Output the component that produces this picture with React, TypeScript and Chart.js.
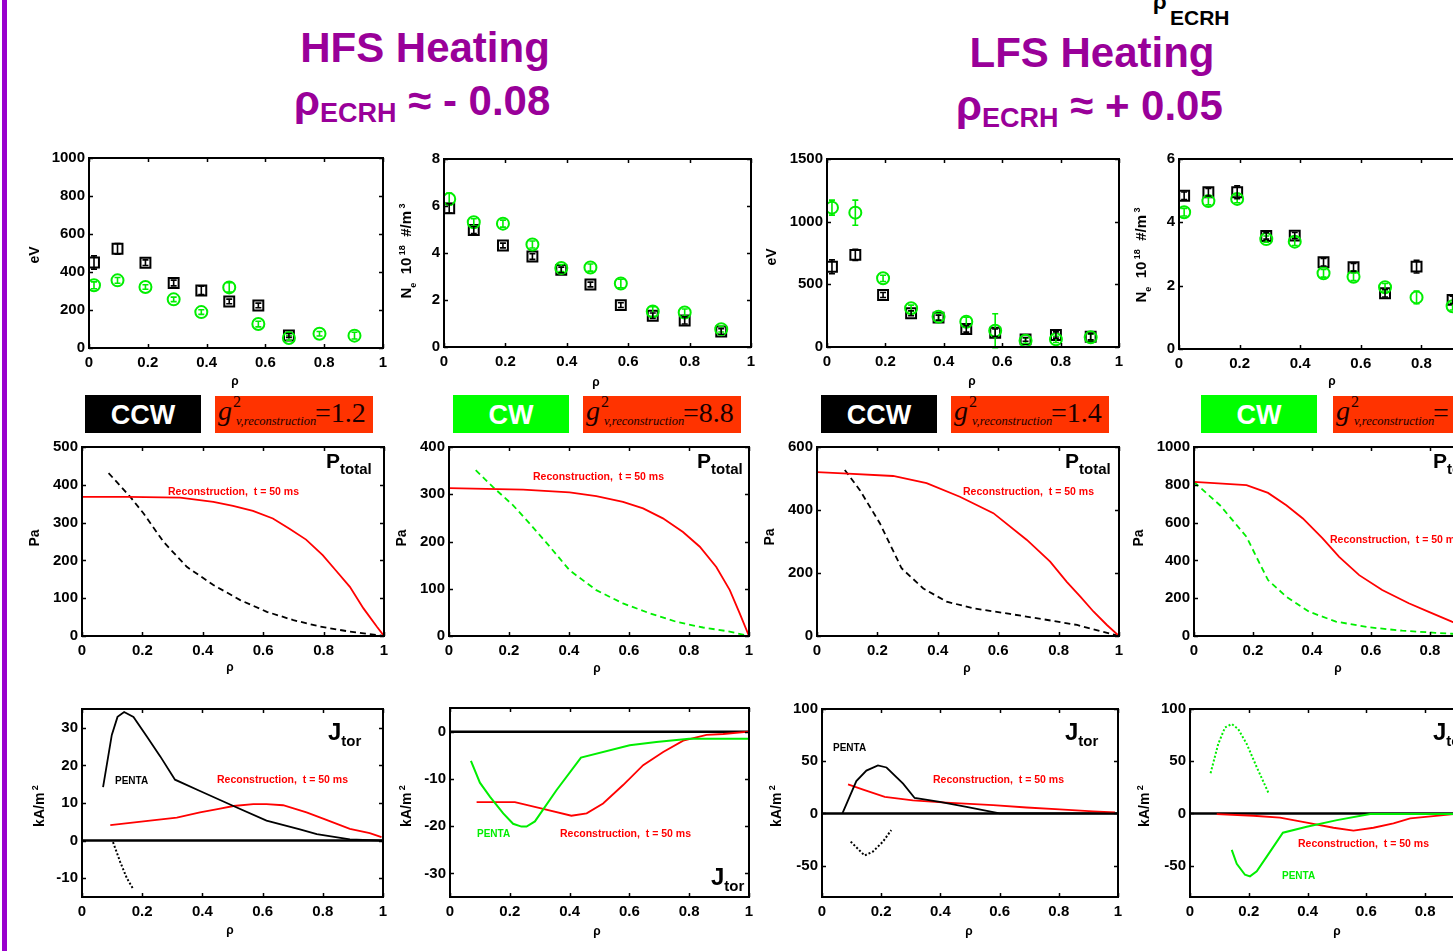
import React, { useEffect, useRef } from "react";
import { Chart, registerables } from "chart.js";

Chart.register(...registerables);

const FONT = "'Liberation Sans', Arial, Helvetica, sans-serif";
const SERIF = "'Liberation Serif', 'Times New Roman', serif";
const PURPLE = "#990099";
const BAR = "#9900CC";
const GREEN = "#00EE00";
const BOX_GREEN = "#00FF00";
const RED = "#FF0000";
const BOX_RED = "#FF3300";
const BLACK = "#000000";

Chart.defaults.font.family = FONT;

// ---------------- data ----------------
const X_TICKS = [0, 0.2, 0.4, 0.6, 0.8, 1];
const RHO = [0.017, 0.097, 0.192, 0.288, 0.382, 0.477, 0.576, 0.68, 0.784, 0.903];
const RHO_8 = RHO.slice(0, 8);

// HFS heating: electron temperature (eV)
const hfsTeTicks = [0, 200, 400, 600, 800, 1000];
const hfsTeCCW = [450, 522, 449, 342, 303, 245, 224, 66];
const hfsTeCCWErr = [35, 28, 15, 15, 22, 12, 12, 10];
const hfsTeCW = [330, 356, 321, 256, 189, 319, 126, 53, 75, 65];
const hfsTeCWErr = [18, 15, 12, 12, 12, 25, 15, 12, 12, 18];

// HFS heating: electron density (1e18 m^-3)
const hfsNeTicks = [0, 2, 4, 6, 8];
const hfsNeCCW = [5.9, 4.98, 4.32, 3.85, 3.28, 2.66, 1.78, 1.33, 1.13, 0.66];
const hfsNeCCWErr = [0.2, 0.15, 0.1, 0.12, 0.12, 0.1, 0.1, 0.12, 0.15, 0.12];
const hfsNeCW = [6.3, 5.31, 5.25, 4.36, 3.36, 3.38, 2.7, 1.51, 1.47, 0.76];
const hfsNeCWErr = [0.25, 0.15, 0.15, 0.15, 0.15, 0.15, 0.18, 0.2, 0.15, 0.12];

// LFS heating: electron temperature (eV)
const lfsTeTicks = [0, 500, 1000, 1500];
const lfsTeCCW = [640, 735, 415, 269, 234, 144, 114, 61, 96, 82];
const lfsTeCCWErr = [55, 45, 20, 20, 20, 25, 30, 15, 25, 25];
const lfsTeCW = [1112, 1072, 548, 309, 242, 202, 130, 50, 61, 77];
const lfsTeCWErr = [60, 100, 25, 25, 25, 35, 135, 20, 25, 25];

// LFS heating: electron density (1e18 m^-3)
const lfsNeTicks = [0, 2, 4, 6];
const lfsNeCCW = [4.84, 4.95, 4.95, 3.57, 3.58, 2.74, 2.58, 1.76, 2.6, 1.55];
const lfsNeCCWErr = [0.12, 0.12, 0.2, 0.1, 0.1, 0.12, 0.12, 0.12, 0.2, 0.12];
const lfsNeCW = [4.32, 4.67, 4.74, 3.47, 3.39, 2.39, 2.28, 1.95, 1.63, 1.35];
const lfsNeCWErr = [0.12, 0.12, 0.12, 0.1, 0.12, 0.12, 0.12, 0.12, 0.2, 0.12];

// Total pressure (Pa)
const hfsCCWPTicks = [0, 100, 200, 300, 400, 500];
const hfsCCWRecRho = [0, 0.15, 0.325, 0.435, 0.5, 0.566, 0.632, 0.687, 0.742, 0.797, 0.84, 0.887, 0.932, 0.976, 1];
const hfsCCWRec = [368, 368, 366, 355, 344, 331, 311, 284, 255, 214, 174, 130, 73, 25, 0];
const hfsCCWPentaRho = [0.088, 0.16, 0.204, 0.27, 0.347, 0.435, 0.524, 0.612, 0.7, 0.788, 0.876, 1];
const hfsCCWPenta = [431, 368, 324, 249, 183, 135, 95, 64, 42, 25, 13, 0];

const hfsCWPTicks = [0, 100, 200, 300, 400];
const hfsCWRecRho = [0, 0.247, 0.402, 0.491, 0.58, 0.647, 0.713, 0.78, 0.836, 0.891, 0.936, 0.969, 1];
const hfsCWRec = [313, 310, 304, 296, 284, 270, 249, 220, 189, 146, 97, 48, 0];
const hfsCWPentaRho = [0.089, 0.147, 0.213, 0.269, 0.336, 0.402, 0.491, 0.58, 0.669, 0.758, 0.847, 0.93, 1];
const hfsCWPenta = [351, 315, 277, 238, 189, 139, 97, 69, 48, 30, 18, 10, 0];

const lfsCCWPTicks = [0, 200, 400, 600];
const lfsCCWRecRho = [0, 0.086, 0.252, 0.363, 0.473, 0.584, 0.695, 0.772, 0.827, 0.872, 0.916, 0.96, 1];
const lfsCCWRec = [520, 516, 508, 485, 442, 390, 305, 236, 172, 125, 77, 35, 0];
const lfsCCWPentaRho = [0.092, 0.142, 0.208, 0.28, 0.352, 0.429, 0.518, 0.639, 0.75, 0.861, 1];
const lfsCCWPenta = [527, 463, 358, 215, 151, 109, 88, 70, 53, 35, 0];

const lfsCWPTicks = [0, 200, 400, 600, 800, 1000];
const lfsCWRecRho = [0, 0.178, 0.251, 0.313, 0.369, 0.436, 0.492, 0.56, 0.638, 0.728, 0.796, 0.874, 0.94, 1];
const lfsCWRec = [815, 798, 757, 692, 622, 516, 419, 322, 243, 173, 128, 76, 35, 0];
const lfsCWPentaRho = [0, 0.088, 0.178, 0.217, 0.251, 0.313, 0.391, 0.481, 0.593, 0.706, 0.818, 0.874, 1];
const lfsCWPenta = [815, 692, 525, 401, 296, 208, 128, 76, 46, 28, 17, 12, 0];

// Toroidal current density (kA/m^2)
const hfsCCWJTicks = [-10, 0, 10, 20, 30];
const hfsCCWJPentaRho = [0.07, 0.099, 0.118, 0.14, 0.171, 0.216, 0.26, 0.309, 0.392, 0.503, 0.613, 0.724, 0.78, 0.89, 1];
const hfsCCWJPenta = [14.2, 28.1, 32.9, 34.2, 32.9, 27.6, 22.4, 16.2, 13.2, 9.2, 5.3, 3.0, 1.75, 0.3, 0];
const hfsCCWJPentaNegRho = [0.103, 0.127, 0.149, 0.171];
const hfsCCWJPentaNeg = [-0.4, -5.7, -10, -13];
const hfsCCWJRecRho = [0.094, 0.226, 0.315, 0.392, 0.459, 0.503, 0.569, 0.613, 0.668, 0.746, 0.812, 0.89, 0.956, 0.995];
const hfsCCWJRec = [4.1, 5.3, 6.1, 7.5, 8.5, 9.2, 9.7, 9.7, 9.4, 7.5, 5.5, 3.1, 2.0, 0.9];

const hfsCWJTicks = [-30, -20, -10, 0];
const hfsCWJPentaRho = [0.07, 0.1, 0.134, 0.178, 0.211, 0.239, 0.256, 0.284, 0.356, 0.438, 0.601, 0.69, 0.8, 0.91, 1];
const hfsCWJPenta = [-6.2, -10.8, -13.8, -17.3, -19.5, -20.1, -20.1, -19.0, -12.4, -5.5, -2.9, -2.2, -1.5, -1.5, -1.5];
const hfsCWJRecRho = [0.089, 0.217, 0.301, 0.406, 0.457, 0.512, 0.579, 0.646, 0.713, 0.78, 0.858, 0.914, 1];
const hfsCWJRec = [-14.9, -14.9, -16.2, -17.8, -17.3, -15.2, -11.3, -7.1, -4.3, -1.9, -0.7, -0.5, 0];

const lfsJTicks = [-50, 0, 50, 100];
const lfsCCWJPentaRho = [0.069, 0.116, 0.15, 0.189, 0.218, 0.274, 0.313, 0.398, 0.488, 0.6, 1];
const lfsCCWJPenta = [0, 31, 41, 46, 44, 28.5, 14.8, 11.1, 6.3, 0, 0];
const lfsCCWJPentaNegRho = [0.097, 0.127, 0.144, 0.172, 0.206, 0.234];
const lfsCCWJPentaNeg = [-27, -35.5, -40.3, -36.5, -27, -15.9];
const lfsCCWJRecRho = [0.088, 0.139, 0.212, 0.307, 0.42, 0.578, 0.691, 0.803, 0.916, 0.99];
const lfsCCWJRec = [27.9, 22.8, 15.8, 12.6, 10.4, 7.9, 5.7, 3.8, 2, 1];

const lfsCWJPentaPosRho = [0.07, 0.096, 0.119, 0.142, 0.164, 0.193, 0.227, 0.267];
const lfsCWJPentaPos = [38.6, 66.5, 82.3, 85.6, 80.8, 66.5, 44.3, 19.6];
const lfsCWJPentaRho = [0.142, 0.159, 0.187, 0.204, 0.227, 0.261, 0.316, 0.397, 0.5, 0.613, 0.9, 1];
const lfsCWJPenta = [-34.9, -48.2, -58.7, -60.3, -55.5, -41.3, -18.4, -12.7, -6.4, -0.6, -0.6, -0.6];
const lfsCWJRecRho = [0.091, 0.215, 0.306, 0.397, 0.488, 0.556, 0.624, 0.692, 0.749, 0.828, 0.896, 1];
const lfsCWJRec = [-0.6, -2.2, -4.1, -8.9, -13.7, -16.5, -13.7, -9.5, -4.8, -2.6, -0.6, 0];

const G2_VALUES = ["1.2", "8.8", "1.4", ""];

// ---------------- dataset helpers ----------------
const pts = (xs: number[], ys: number[]) => xs.map((x, i) => ({ x, y: ys[i] }));

function curve(xs: number[], ys: number[], color: string, dash: number[] = [], width = 1.8) {
  return {
    data: pts(xs, ys),
    showLine: true,
    borderColor: color,
    borderWidth: width,
    borderDash: dash,
    pointRadius: 0,
    fill: false,
    tension: 0,
  };
}

function markers(xs: number[], ys: number[], errs: number[], color: string, style: string) {
  return {
    data: pts(xs, ys),
    showLine: false,
    pointStyle: style,
    pointRadius: style === "rect" ? 7 : 6,
    borderColor: color,
    pointBorderColor: color,
    pointBorderWidth: 2,
    backgroundColor: "transparent",
    pointBackgroundColor: "transparent",
    errorBars: errs,
  };
}

// ---------------- plugins ----------------
const framePlugin = {
  id: "frame",
  afterDraw(chart: any) {
    const { ctx, chartArea: a, scales } = chart;
    const x = scales.x;
    const y = scales.y;
    ctx.save();
    ctx.strokeStyle = BLACK;
    ctx.lineWidth = 1.5;
    ctx.beginPath();
    x.ticks.forEach((t: any) => {
      const px = Math.round(x.getPixelForValue(t.value)) + 0.5;
      ctx.moveTo(px, a.bottom);
      ctx.lineTo(px, a.bottom - 4);
      ctx.moveTo(px, a.top);
      ctx.lineTo(px, a.top + 4);
    });
    y.ticks.forEach((t: any) => {
      const py = Math.round(y.getPixelForValue(t.value)) + 0.5;
      ctx.moveTo(a.left, py);
      ctx.lineTo(a.left + 4, py);
      ctx.moveTo(a.right, py);
      ctx.lineTo(a.right - 4, py);
    });
    ctx.stroke();
    ctx.lineWidth = 2;
    ctx.strokeRect(a.left, a.top, a.right - a.left, a.bottom - a.top);
    ctx.restore();
  },
};

const errorBarPlugin = {
  id: "errorBars",
  afterDatasetsDraw(chart: any) {
    const { ctx } = chart;
    const ys = chart.scales.y;
    chart.data.datasets.forEach((ds: any, i: number) => {
      if (!ds.errorBars) return;
      const meta = chart.getDatasetMeta(i);
      ctx.save();
      ctx.strokeStyle = ds.borderColor;
      ctx.lineWidth = 1.6;
      ctx.beginPath();
      meta.data.forEach((el: any, j: number) => {
        const v = ds.data[j].y;
        const e = ds.errorBars[j];
        const y1 = ys.getPixelForValue(v - e);
        const y2 = ys.getPixelForValue(v + e);
        ctx.moveTo(el.x, y1);
        ctx.lineTo(el.x, y2);
        ctx.moveTo(el.x - 3, y1);
        ctx.lineTo(el.x + 3, y1);
        ctx.moveTo(el.x - 3, y2);
        ctx.lineTo(el.x + 3, y2);
      });
      ctx.stroke();
      ctx.restore();
    });
  },
};

const zeroLinePlugin = {
  id: "zeroLine",
  beforeDatasetsDraw(chart: any) {
    const { ctx, chartArea: a } = chart;
    const py = chart.scales.y.getPixelForValue(0);
    ctx.save();
    ctx.strokeStyle = BLACK;
    ctx.lineWidth = 2.5;
    ctx.beginPath();
    ctx.moveTo(a.left, py);
    ctx.lineTo(a.right, py);
    ctx.stroke();
    ctx.restore();
  },
};

// ---------------- panel ----------------
type Rect = { l: number; t: number; r: number; b: number };
const YW = 70;
const XH = 34;
const PT = 14;
const PR = 16;
const TICK_FONT = { family: FONT, weight: "bold" as const, size: 15 };

function fmtX(v: number) {
  if (v === 0) return "0";
  if (v === 1) return "1";
  return v.toFixed(1);
}

function Panel(props: {
  rect: Rect;
  yMin: number;
  yMax: number;
  yTicks: number[];
  makeDatasets: () => any[];
  zeroLine?: boolean;
}) {
  const { rect, yMin, yMax, yTicks, makeDatasets, zeroLine } = props;
  const ref = useRef<HTMLCanvasElement>(null);
  const w = rect.r - rect.l + YW + PR;
  const h = rect.b - rect.t + PT + XH;

  useEffect(() => {
    const plugins: any[] = [errorBarPlugin, framePlugin];
    if (zeroLine) plugins.push(zeroLinePlugin);
    const chart = new Chart(ref.current as HTMLCanvasElement, {
      type: "scatter",
      data: { datasets: makeDatasets() },
      options: {
        responsive: false,
        animation: false,
        devicePixelRatio: 1,
        events: [],
        layout: { padding: { top: PT, right: PR, left: 0, bottom: 0 } },
        plugins: { legend: { display: false }, tooltip: { enabled: false } },
        scales: {
          x: {
            type: "linear",
            min: 0,
            max: 1,
            grid: { display: false, drawTicks: false },
            border: { display: false },
            ticks: {
              font: TICK_FONT,
              color: BLACK,
              padding: 6,
              autoSkip: false,
              maxRotation: 0,
              callback: (v: any) => fmtX(Number(v)),
            },
            afterBuildTicks: (s: any) => {
              s.ticks = X_TICKS.map((v) => ({ value: v }));
            },
            afterFit: (s: any) => {
              s.height = XH;
            },
          },
          y: {
            type: "linear",
            min: yMin,
            max: yMax,
            grid: { display: false, drawTicks: false },
            border: { display: false },
            ticks: {
              font: TICK_FONT,
              color: BLACK,
              padding: 4,
              autoSkip: false,
              callback: (v: any) => String(v),
            },
            afterBuildTicks: (s: any) => {
              s.ticks = yTicks.map((v) => ({ value: v }));
            },
            afterFit: (s: any) => {
              s.width = YW;
            },
          },
        },
      } as any,
      plugins,
    });
    return () => chart.destroy();
  }, []);

  return (
    <canvas
      ref={ref}
      width={w}
      height={h}
      style={{ position: "absolute", left: rect.l - YW, top: rect.t - PT, width: w, height: h }}
    />
  );
}

// ---------------- text helpers ----------------
function Txt(props: {
  x: number;
  y: number;
  size: number;
  color?: string;
  bold?: boolean;
  italic?: boolean;
  serif?: boolean;
  anchor?: "start" | "middle";
  children: React.ReactNode;
}) {
  const { x, y, size, color = BLACK, bold = true, italic = false, serif = false, anchor = "start" } = props;
  const asc = serif ? 0.8375 : 0.8465;
  return (
    <div
      style={{
        position: "absolute",
        left: x,
        top: y - asc * size,
        fontSize: size,
        lineHeight: 1,
        fontFamily: serif ? SERIF : FONT,
        fontWeight: bold ? 700 : 400,
        fontStyle: italic ? "italic" : "normal",
        color,
        whiteSpace: "pre",
        transform: anchor === "middle" ? "translateX(-50%)" : undefined,
      }}
    >
      {props.children}
    </div>
  );
}

function VLabel(props: { cx: number; cy: number; size?: number; children: React.ReactNode }) {
  return (
    <div
      style={{
        position: "absolute",
        left: props.cx,
        top: props.cy,
        transform: "translate(-50%, -50%) rotate(-90deg)",
        fontSize: props.size ?? 14,
        fontFamily: FONT,
        fontWeight: 700,
        whiteSpace: "pre",
        lineHeight: 1,
        color: BLACK,
      }}
    >
      {props.children}
    </div>
  );
}

const sup = (t: string) => <span style={{ fontSize: 9, verticalAlign: 6 }}>{t}</span>;
const sub = (t: string) => <span style={{ fontSize: 9, verticalAlign: -5 }}>{t}</span>;

const NeLabel = (
  <>
    N{sub("e")}  10{sup(" 18")}  #/m{sup(" 3")}
  </>
);
const JLabel = <>kA/m{sup(" 2")}</>;

function DirBox(props: { l: number; dir: "CCW" | "CW" }) {
  const bg = props.dir === "CCW" ? BLACK : BOX_GREEN;
  return (
    <div
      style={{
        position: "absolute",
        left: props.l,
        top: 395,
        width: 116,
        height: 38,
        background: bg,
        color: "#FFFFFF",
        fontFamily: FONT,
        fontWeight: 700,
        fontSize: 27,
        lineHeight: "40px",
        textAlign: "center",
      }}
    >
      {props.dir}
    </div>
  );
}

function GBox(props: { l: number; value: string }) {
  const span = (left: number, base: number, size: number, italic: boolean, text: string) => (
    <span
      style={{
        position: "absolute",
        left,
        top: base - 0.8375 * size,
        fontSize: size,
        lineHeight: 1,
        fontFamily: SERIF,
        fontStyle: italic ? "italic" : "normal",
        whiteSpace: "pre",
        color: "#1a0000",
      }}
    >
      {text}
    </span>
  );
  return (
    <div
      style={{ position: "absolute", left: props.l, top: 396, width: 158, height: 37, background: BOX_RED, overflow: "hidden" }}
    >
      {span(3, 24, 28, true, "g")}
      {span(18, 11, 16, false, "2")}
      {span(21, 29, 12.5, true, "v,reconstruction")}
      {span(100, 26, 28, false, "=" + props.value)}
    </div>
  );
}

// Symbol with a bold subscript, e.g. P_total, J_tor
function Sub2(props: { x: number; y: number; big: string; small: string; bigSize?: number }) {
  const bs = props.bigSize ?? 22;
  return (
    <Txt x={props.x} y={props.y} size={bs}>
      {props.big}
      <span style={{ fontSize: 15, verticalAlign: -6 }}>{props.small}</span>
    </Txt>
  );
}

const REC = "Reconstruction,  t = 50 ms";

export default function App() {
  return (
    <div
      style={{
        position: "fixed",
        left: 0,
        top: 0,
        width: 1453,
        height: 951,
        overflow: "hidden",
        background: "#FFFFFF",
      }}
    >
      <div style={{ position: "absolute", left: 2, top: 0, width: 5, height: 951, background: BAR }} />

      {/* headings */}
      <Txt x={425} y={63} size={42} color={PURPLE} anchor="middle">
        HFS Heating
      </Txt>
      <Txt x={294} y={116} size={42} color={PURPLE}>
        ρ<span style={{ fontSize: 27, verticalAlign: -7 }}>ECRH</span> ≈ - 0.08
      </Txt>
      <Txt x={1092} y={68} size={42} color={PURPLE} anchor="middle">
        LFS Heating
      </Txt>
      <Txt x={956} y={121} size={42} color={PURPLE}>
        ρ<span style={{ fontSize: 27, verticalAlign: -7 }}>ECRH</span> ≈ + 0.05
      </Txt>
      <Txt x={1153} y={10} size={22}>
        ρ
      </Txt>
      <Txt x={1170} y={25} size={21}>
        ECRH
      </Txt>

      {/* row 1: kinetic profiles */}
      <Panel
        rect={{ l: 89, t: 158, r: 383, b: 348 }}
        yMin={0}
        yMax={1000}
        yTicks={hfsTeTicks}
        makeDatasets={() => [
          markers(RHO, hfsTeCW, hfsTeCWErr, GREEN, "circle"),
          markers(RHO_8, hfsTeCCW, hfsTeCCWErr, BLACK, "rect"),
        ]}
      />
      <Panel
        rect={{ l: 444, t: 159, r: 751, b: 347 }}
        yMin={0}
        yMax={8}
        yTicks={hfsNeTicks}
        makeDatasets={() => [
          markers(RHO, hfsNeCW, hfsNeCWErr, GREEN, "circle"),
          markers(RHO, hfsNeCCW, hfsNeCCWErr, BLACK, "rect"),
        ]}
      />
      <Panel
        rect={{ l: 827, t: 159, r: 1119, b: 347 }}
        yMin={0}
        yMax={1500}
        yTicks={lfsTeTicks}
        makeDatasets={() => [
          markers(RHO, lfsTeCW, lfsTeCWErr, GREEN, "circle"),
          markers(RHO, lfsTeCCW, lfsTeCCWErr, BLACK, "rect"),
        ]}
      />
      <Panel
        rect={{ l: 1179, t: 159, r: 1482, b: 349 }}
        yMin={0}
        yMax={6}
        yTicks={lfsNeTicks}
        makeDatasets={() => [
          markers(RHO, lfsNeCW, lfsNeCWErr, GREEN, "circle"),
          markers(RHO, lfsNeCCW, lfsNeCCWErr, BLACK, "rect"),
        ]}
      />

      {/* row 2: total pressure */}
      <Panel
        rect={{ l: 82, t: 447, r: 384, b: 636 }}
        yMin={0}
        yMax={500}
        yTicks={hfsCCWPTicks}
        makeDatasets={() => [
          curve(hfsCCWRecRho, hfsCCWRec, RED),
          curve(hfsCCWPentaRho, hfsCCWPenta, BLACK, [6, 4]),
        ]}
      />
      <Panel
        rect={{ l: 449, t: 447, r: 749, b: 636 }}
        yMin={0}
        yMax={400}
        yTicks={hfsCWPTicks}
        makeDatasets={() => [
          curve(hfsCWRecRho, hfsCWRec, RED),
          curve(hfsCWPentaRho, hfsCWPenta, GREEN, [6, 4]),
        ]}
      />
      <Panel
        rect={{ l: 817, t: 447, r: 1119, b: 636 }}
        yMin={0}
        yMax={600}
        yTicks={lfsCCWPTicks}
        makeDatasets={() => [
          curve(lfsCCWRecRho, lfsCCWRec, RED),
          curve(lfsCCWPentaRho, lfsCCWPenta, BLACK, [6, 4]),
        ]}
      />
      <Panel
        rect={{ l: 1194, t: 447, r: 1489, b: 636 }}
        yMin={0}
        yMax={1000}
        yTicks={lfsCWPTicks}
        makeDatasets={() => [
          curve(lfsCWRecRho, lfsCWRec, RED),
          curve(lfsCWPentaRho, lfsCWPenta, GREEN, [6, 4]),
        ]}
      />

      {/* row 3: toroidal current density */}
      <Panel
        rect={{ l: 82, t: 709, r: 383, b: 897 }}
        yMin={-15}
        yMax={35}
        yTicks={hfsCCWJTicks}
        zeroLine
        makeDatasets={() => [
          curve(hfsCCWJPentaRho, hfsCCWJPenta, BLACK),
          curve(hfsCCWJRecRho, hfsCCWJRec, RED),
          curve(hfsCCWJPentaNegRho, hfsCCWJPentaNeg, BLACK, [2, 2], 2),
        ]}
      />
      <Panel
        rect={{ l: 450, t: 708, r: 749, b: 897 }}
        yMin={-35}
        yMax={5}
        yTicks={hfsCWJTicks}
        zeroLine
        makeDatasets={() => [
          curve(hfsCWJPentaRho, hfsCWJPenta, GREEN, [], 2),
          curve(hfsCWJRecRho, hfsCWJRec, RED),
        ]}
      />
      <Panel
        rect={{ l: 822, t: 709, r: 1118, b: 897 }}
        yMin={-80}
        yMax={100}
        yTicks={lfsJTicks}
        zeroLine
        makeDatasets={() => [
          curve(lfsCCWJPentaRho, lfsCCWJPenta, BLACK),
          curve(lfsCCWJRecRho, lfsCCWJRec, RED),
          curve(lfsCCWJPentaNegRho, lfsCCWJPentaNeg, BLACK, [2, 2], 2),
        ]}
      />
      <Panel
        rect={{ l: 1190, t: 709, r: 1484, b: 897 }}
        yMin={-80}
        yMax={100}
        yTicks={lfsJTicks}
        zeroLine
        makeDatasets={() => [
          curve(lfsCWJPentaPosRho, lfsCWJPentaPos, GREEN, [2, 2], 2),
          curve(lfsCWJPentaRho, lfsCWJPenta, GREEN, [], 2),
          curve(lfsCWJRecRho, lfsCWJRec, RED),
        ]}
      />

      {/* rotation / fit-quality boxes */}
      <DirBox l={85} dir="CCW" />
      <GBox l={215} value={G2_VALUES[0]} />
      <DirBox l={453} dir="CW" />
      <GBox l={583} value={G2_VALUES[1]} />
      <DirBox l={821} dir="CCW" />
      <GBox l={951} value={G2_VALUES[2]} />
      <DirBox l={1201} dir="CW" />
      <GBox l={1333} value={G2_VALUES[3]} />

      {/* y-axis titles */}
      <VLabel cx={34} cy={255}>eV</VLabel>
      <VLabel cx={408} cy={251} size={15}>{NeLabel}</VLabel>
      <VLabel cx={771} cy={257}>eV</VLabel>
      <VLabel cx={1143} cy={255} size={15}>{NeLabel}</VLabel>
      <VLabel cx={34} cy={538}>Pa</VLabel>
      <VLabel cx={401} cy={538}>Pa</VLabel>
      <VLabel cx={769} cy={537}>Pa</VLabel>
      <VLabel cx={1138} cy={538}>Pa</VLabel>
      <VLabel cx={38} cy={806}>{JLabel}</VLabel>
      <VLabel cx={405} cy={806}>{JLabel}</VLabel>
      <VLabel cx={775} cy={806}>{JLabel}</VLabel>
      <VLabel cx={1143} cy={806}>{JLabel}</VLabel>

      {/* x-axis titles */}
      {[
        [235, 385],
        [596, 386],
        [972, 385],
        [1332, 385],
        [230, 671],
        [597, 672],
        [967, 672],
        [1338, 672],
        [230, 934],
        [597, 935],
        [969, 935],
        [1337, 935],
      ].map(([x, y], i) => (
        <Txt key={i} x={x} y={y} size={12} anchor="middle">
          ρ
        </Txt>
      ))}

      {/* in-plot annotations */}
      <Sub2 x={326} y={468} big="P" small="total" bigSize={21} />
      <Sub2 x={697} y={468} big="P" small="total" bigSize={21} />
      <Sub2 x={1065} y={468} big="P" small="total" bigSize={21} />
      <Sub2 x={1433} y={468} big="P" small="total" bigSize={21} />
      <Txt x={168} y={495} size={10.5} color={RED}>{REC}</Txt>
      <Txt x={533} y={480} size={10.5} color={RED}>{REC}</Txt>
      <Txt x={963} y={495} size={10.5} color={RED}>{REC}</Txt>
      <Txt x={1330} y={543} size={10.5} color={RED}>{REC}</Txt>

      <Sub2 x={328} y={740} big="J" small="tor" bigSize={24} />
      <Sub2 x={711} y={885} big="J" small="tor" bigSize={24} />
      <Sub2 x={1065} y={740} big="J" small="tor" bigSize={24} />
      <Sub2 x={1433} y={740} big="J" small="tor" bigSize={24} />
      <Txt x={115} y={784} size={10}>PENTA</Txt>
      <Txt x={217} y={783} size={10.5} color={RED}>{REC}</Txt>
      <Txt x={477} y={837} size={10} color={GREEN}>PENTA</Txt>
      <Txt x={560} y={837} size={10.5} color={RED}>{REC}</Txt>
      <Txt x={833} y={751} size={10}>PENTA</Txt>
      <Txt x={933} y={783} size={10.5} color={RED}>{REC}</Txt>
      <Txt x={1282} y={879} size={10} color={GREEN}>PENTA</Txt>
      <Txt x={1298} y={847} size={10.5} color={RED}>{REC}</Txt>
    </div>
  );
}
